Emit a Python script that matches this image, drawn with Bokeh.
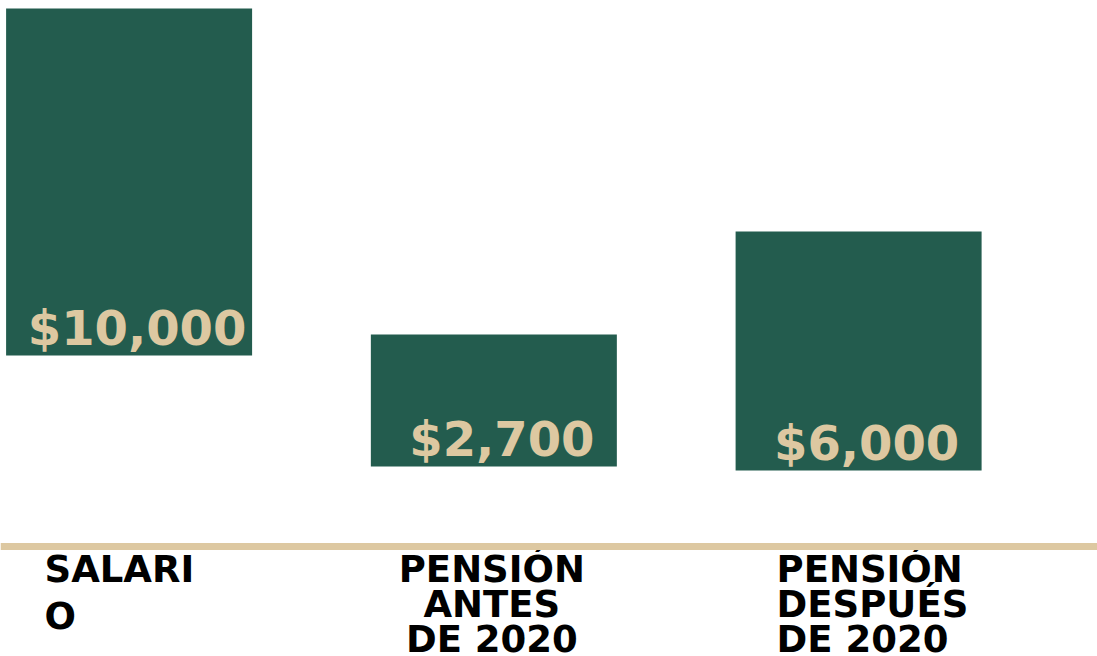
from bokeh.plotting import figure
from bokeh.models import Range1d, Span, ColumnDataSource
from bokeh.core.properties import value
from bokeh.embed import file_html
from bokeh.resources import INLINE
import numpy as np

# ---- data ----
categories = ["SALARI\nO", "PENSIÓN\nANTES\nDE 2020", "PENSIÓN\nDESPUÉS\nDE 2020"]
amounts = [10000, 2700, 6000]
value_labels = ["$10,000", "$2,700", "$6,000"]
# floating bar extents (infographic units, pixels above the baseline rule)
bar_top = [538, 212, 315]
bar_base = [191, 80, 76]

GREEN = "#235C4E"
TAN = "#DDC8A1"
FONT = "DejaVu Sans"

W, H = 1097, 656
xs = np.arange(len(categories))
px_per_unit = 364.75
x_start = -128.6 / px_per_unit
x_end = x_start + W / px_per_unit

p = figure(width=W, height=H, output_backend="svg", toolbar_location=None,
           x_range=Range1d(x_start, x_end), y_range=Range1d(-110, 546),
           min_border=0, min_border_left=0, min_border_right=0,
           min_border_top=0, min_border_bottom=0)
p.axis.visible = False
p.grid.visible = False
p.outline_line_color = None
p.background_fill_color = "white"
p.border_fill_color = "white"

src = ColumnDataSource(dict(x=xs, top=bar_top, bottom=bar_base,
                            label=value_labels, amount=amounts))
p.vbar(x="x", top="top", bottom="bottom", width=246 / px_per_unit, source=src,
       fill_color=GREEN, line_color=None)

p.text(x="x", y="bottom", text="label", source=src,
       text_font=value(FONT), text_font_style="bold", text_font_size="48px",
       text_color=TAN, text_align="center", text_baseline="alphabetic",
       x_offset=8, y_offset=-28)

p.add_layout(Span(location=0, dimension="width", line_color=TAN, line_width=7))

# category labels, one line at a time
aligns = ["left", "center", "left"]
x_offs = [-84.6, -2, -82]
spacings = [47, 35, 35]
for i, cat in enumerate(categories):
    lines = cat.split("\n")
    for j, ln in enumerate(lines):
        p.text(x=[xs[i]], y=[0], text=[ln], text_font=value(FONT),
               text_font_style="bold", text_font_size="37px", text_color="black",
               text_align=aligns[i], text_baseline="alphabetic",
               x_offset=x_offs[i], y_offset=23 + j * spacings[i])

open("out.html", "w").write(file_html(p, INLINE))
